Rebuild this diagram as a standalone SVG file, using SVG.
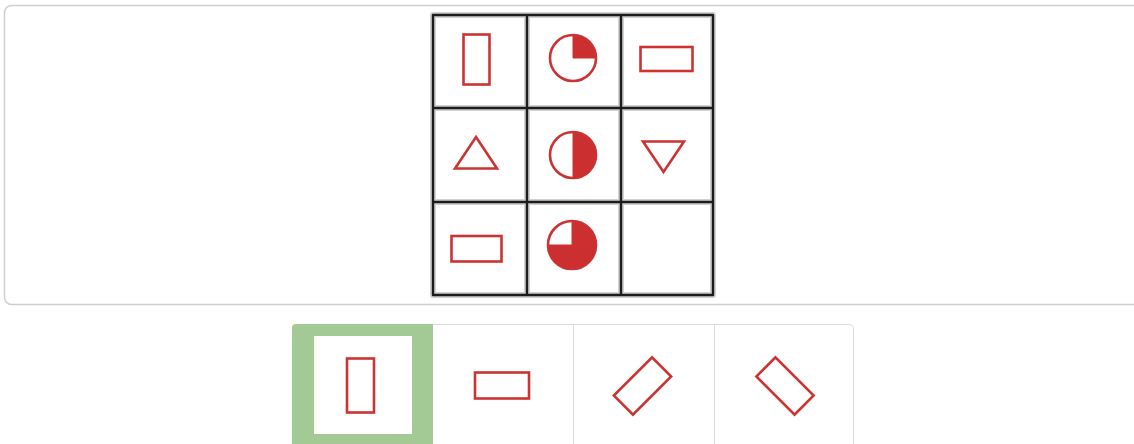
<svg xmlns="http://www.w3.org/2000/svg" width="1134" height="444" viewBox="0 0 1134 444">
<style>
.panel{fill:#fff;stroke:#cfcfcf;stroke-width:1.5}
.gl{stroke:#1c1c1c;stroke-width:2.4;stroke-linecap:round}
.gh{stroke:#000;stroke-opacity:0.18;stroke-width:6;stroke-linecap:round}
.sh{fill:none;stroke:#cc3333;stroke-width:2.6;stroke-linejoin:miter}
.fl{fill:#cc2f2f;stroke:#cc3333;stroke-width:1}
.sep{stroke:#dcdcdc;stroke-width:1}
</style>
<rect width="1134" height="444" fill="#fff"/>
<g id="panel"><rect class="panel" x="4.5" y="5.5" width="1140" height="299" rx="7"/></g>
<g id="grid">
<g fill="none">
<path class="gh" d="M433,15 H713 M433,108 H713 M433,202 H713 M433,295 H713 M433,15 V295 M527,15 V295 M621,15 V295 M713,15 V295"/>
<path class="gl" d="M433,15 H713 M433,108 H713 M433,202 H713 M433,295 H713 M433,15 V295 M527,15 V295 M621,15 V295 M713,15 V295"/>
</g>
</g>
<g id="cell-r1c1"><rect class="sh" x="463.5" y="34.5" width="26" height="50"/></g>
<g id="cell-r1c2"><circle class="sh" cx="573" cy="58" r="23"/><path class="fl" d="M573,58 L573,35 A23,23 0 0 1 596,58 Z"/></g>
<g id="cell-r1c3"><rect class="sh" x="640.5" y="47" width="52" height="24"/></g>
<g id="cell-r2c1"><polygon class="sh" points="476,137 497,168.5 455,168.5"/></g>
<g id="cell-r2c2"><circle class="sh" cx="573" cy="155" r="23"/><path class="fl" d="M573,132 A23,23 0 0 1 573,178 Z"/></g>
<g id="cell-r2c3"><polygon class="sh" points="643,141.5 684,141.5 663.5,172"/></g>
<g id="cell-r3c1"><rect class="sh" x="451.5" y="236" width="50" height="25.5"/></g>
<g id="cell-r3c2"><circle class="sh" cx="572" cy="245" r="24"/><path class="fl" d="M572,245 L572,221 A24,24 0 1 1 548,245 Z"/></g>
<g id="cell-r3c3"></g>
<g id="options">
<rect x="292.5" y="324.5" width="561" height="125" rx="4" fill="#fff" stroke="#dcdcdc"/>
<line class="sep" x1="573.5" y1="325" x2="573.5" y2="444"/>
<line class="sep" x1="714.5" y1="325" x2="714.5" y2="444"/>
</g>
<g id="option-1">
<path d="M292,328 Q292,324 296,324 H433 V444 H292 Z" fill="#a3c994"/>
<rect x="314" y="336" width="98" height="98" fill="#fff"/>
<rect class="sh" x="347" y="358.5" width="27" height="54"/>
</g>
<g id="option-2"><rect class="sh" x="475" y="372.5" width="54" height="26"/></g>
<g id="option-3"><rect class="sh" x="629" y="359" width="27" height="54" transform="rotate(45 642.5 386)"/></g>
<g id="option-4"><rect class="sh" x="771.5" y="359" width="27" height="54" transform="rotate(-45 785 386)"/></g>
</svg>
